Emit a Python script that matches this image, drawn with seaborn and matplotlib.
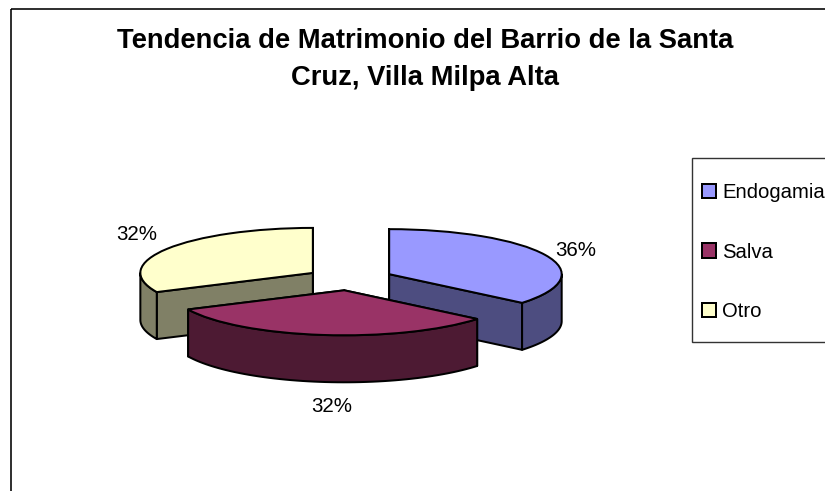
import numpy as np
import matplotlib
matplotlib.use("Agg")
import matplotlib.pyplot as plt
from matplotlib.patches import Patch, Polygon, Rectangle
import seaborn as sns

categories = ["Endogamia", "Salva", "Otro"]
values = [36, 32, 32]
title_lines = ["Tendencia de Matrimonio del Barrio de la Santa",
               "Cruz, Villa Milpa Alta"]
top_colors = ["#9999FF", "#993366", "#FFFFCC"]
side_colors = ["#4D4D80", "#4D1A33", "#808066"]

W, H = 825, 491
CX, CY, RX, RY = 349.7, 279.0, 172.5, 45.0
DEPTH = 47.0 / RY
EXPLODE = 0.253
LABEL_PX = [(576, 251), (332, 407), (137, 235)]

sns.set_theme(style="white")
plt.rcParams["font.family"] = ["Liberation Sans", "DejaVu Sans"]
sns.set_palette(top_colors)

px = 0.72  # one pixel in points at dpi 100
fig = plt.figure(figsize=(W / 100, H / 100), dpi=100, facecolor="white")
ax = fig.add_axes([0, 0, 1, 1])

wedges, _ = ax.pie(values, colors=sns.color_palette(), startangle=90, counterclock=False,
                   explode=[EXPLODE] * len(values), radius=1,
                   wedgeprops=dict(edgecolor="black", linewidth=2.0 * px))
ax.set_aspect("auto")
ax.set_xlim(-CX / RX, (W - CX) / RX)
ax.set_ylim((CY - H) / RY, CY / RY)
ax.axis("off")


def add_wall(points, color, z):
    pts = np.asarray(points)
    lower = pts - [0, DEPTH]
    ax.add_patch(Polygon(np.vstack([pts, lower[::-1]]), closed=True, facecolor=color,
                         edgecolor="black", linewidth=2.0 * px, zorder=z, joinstyle="round"))


order = {0: 2, 2: 3, 1: 4}
for i, w in enumerate(wedges):
    z = order[i]
    c = np.array(w.center)
    for ang in (w.theta1, w.theta2):
        a = np.radians(ang)
        add_wall([c, c + w.r * np.array([np.cos(a), np.sin(a)])], side_colors[i], z)
    lo, hi = max(w.theta1, -180), min(w.theta2, 0)
    if hi > lo:
        t = np.radians(np.linspace(lo, hi, 60))
        add_wall(np.c_[c[0] + w.r * np.cos(t), c[1] + w.r * np.sin(t)], side_colors[i], z + 0.1)
    w.set_zorder(z + 0.2)

for v, (x, y) in zip(values, LABEL_PX):
    ax.text((x - CX) / RX, (CY - y) / RY, f"{v}%", ha="center", va="center",
            fontsize=14.8, color="black", zorder=6)

# chart frame and legend box, in pixel coordinates of the figure
fig_tf = matplotlib.transforms.Affine2D().scale(1 / W, -1 / H).translate(0, 1) + fig.transFigure
fig.add_artist(Rectangle((10.5, 8.5), W, H, transform=fig_tf, fill=False,
                         edgecolor="black", linewidth=1.6 * px))
fig.add_artist(Rectangle((692, 158), 200, 184, transform=fig_tf, facecolor="white",
                         edgecolor="#333333", linewidth=1.4 * px, zorder=5))

handles = [Patch(facecolor=c, edgecolor="black", linewidth=2.0 * px) for c in top_colors]
leg = fig.legend(handles, categories, loc="upper left", frameon=False, fontsize=14.6,
                 bbox_to_anchor=(702 / W, 1 - 183 / H), borderpad=0, borderaxespad=0,
                 labelspacing=2.0, handlelength=0.7, handleheight=0.7, handletextpad=0.3,
                 labelcolor="black")
leg.set_zorder(7)

fig.text(425 / W, 1 - 41 / H, title_lines[0], ha="center", va="center",
         fontsize=19.7, fontweight="bold", color="black")
fig.text(425 / W, 1 - 78 / H, title_lines[1], ha="center", va="center",
         fontsize=19.7, fontweight="bold", color="black")

fig.savefig("out.png", dpi=100, facecolor="white")
